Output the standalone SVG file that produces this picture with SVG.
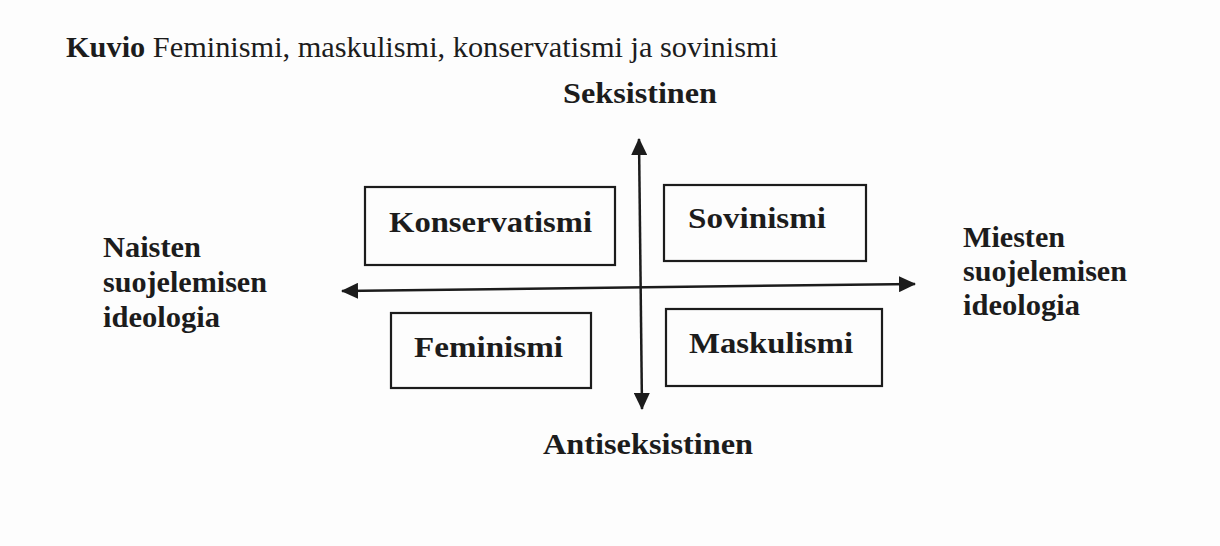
<svg xmlns="http://www.w3.org/2000/svg" width="1220" height="546" viewBox="0 0 1220 546">
  <style>
    .bg { fill: #fdfdfd; }
    .serif { font-family: "Liberation Serif", "Times New Roman", serif; fill: #1c1c1c; }
    .b { font-weight: bold; }
    .lbl { font-size: 30px; font-weight: bold; }
    .box { fill: none; stroke: #1c1c1c; stroke-width: 2.2; }
    .axis { stroke: #1c1c1c; stroke-width: 2.5; fill: none; }
  </style>
  <defs>
    <marker id="arrow" markerUnits="userSpaceOnUse" markerWidth="17" markerHeight="16" refX="16" refY="8" orient="auto-start-reverse" viewBox="0 0 17 16">
      <path d="M0,0 L17,8 L0,16 Z" fill="#1c1c1c"/>
    </marker>
  </defs>
  <rect class="bg" x="0" y="0" width="1220" height="546"/>

  <g id="title">
    <text class="serif" x="66" y="57" font-size="30" textLength="712" lengthAdjust="spacingAndGlyphs"><tspan class="b">Kuvio</tspan> Feminismi, maskulismi, konservatismi ja sovinismi</text>
  </g>

  <g id="connectors">
    <line class="axis" x1="639" y1="139" x2="642" y2="409" marker-start="url(#arrow)" marker-end="url(#arrow)"/>
    <line class="axis" x1="342" y1="291" x2="915" y2="284" marker-start="url(#arrow)" marker-end="url(#arrow)"/>
  </g>

  <g id="axis-top">
    <text class="serif lbl" x="563" y="103" textLength="154" lengthAdjust="spacingAndGlyphs">Seksistinen</text>
  </g>
  <g id="axis-bottom">
    <text class="serif lbl" x="543" y="454" textLength="210" lengthAdjust="spacingAndGlyphs">Antiseksistinen</text>
  </g>
  <g id="axis-left">
    <text class="serif lbl" x="103" y="257" textLength="98" lengthAdjust="spacingAndGlyphs">Naisten</text>
    <text class="serif lbl" x="103" y="292" textLength="164" lengthAdjust="spacingAndGlyphs">suojelemisen</text>
    <text class="serif lbl" x="103" y="327" textLength="117" lengthAdjust="spacingAndGlyphs">ideologia</text>
  </g>
  <g id="axis-right">
    <text class="serif lbl" x="963" y="247" textLength="102" lengthAdjust="spacingAndGlyphs">Miesten</text>
    <text class="serif lbl" x="963" y="281" textLength="164" lengthAdjust="spacingAndGlyphs">suojelemisen</text>
    <text class="serif lbl" x="963" y="315" textLength="117" lengthAdjust="spacingAndGlyphs">ideologia</text>
  </g>

  <g id="konservatismi">
    <rect class="box" x="365" y="187" width="250" height="78"/>
    <text class="serif lbl" x="389" y="232" textLength="203" lengthAdjust="spacingAndGlyphs">Konservatismi</text>
  </g>
  <g id="sovinismi">
    <rect class="box" x="664" y="185" width="202" height="76"/>
    <text class="serif lbl" x="688" y="228" textLength="138" lengthAdjust="spacingAndGlyphs">Sovinismi</text>
  </g>
  <g id="feminismi">
    <rect class="box" x="391" y="313" width="200" height="75"/>
    <text class="serif lbl" x="414" y="357" textLength="149" lengthAdjust="spacingAndGlyphs">Feminismi</text>
  </g>
  <g id="maskulismi">
    <rect class="box" x="666" y="309" width="216" height="77"/>
    <text class="serif lbl" x="689" y="353" textLength="164" lengthAdjust="spacingAndGlyphs">Maskulismi</text>
  </g>
</svg>
